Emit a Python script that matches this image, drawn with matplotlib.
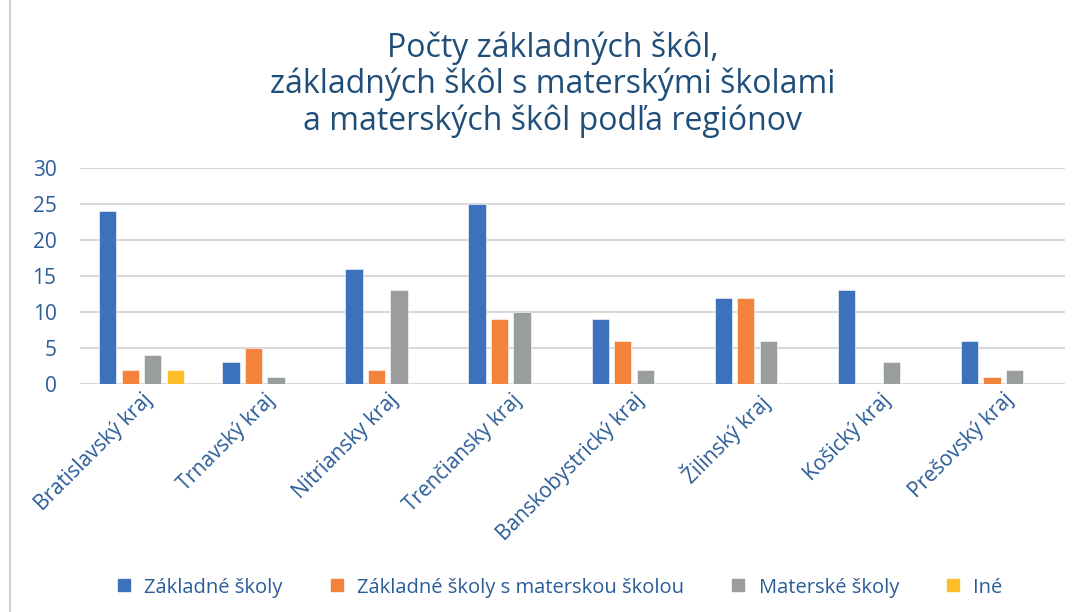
import numpy as np
import matplotlib.pyplot as plt
from matplotlib.lines import Line2D

regions = ["Bratislavský kraj", "Trnavský kraj", "Nitriansky kraj", "Trenčiansky kraj",
           "Banskobystrický kraj", "Žilinský kraj", "Košický kraj", "Prešovský kraj"]
zakladne = [24, 3, 16, 25, 9, 12, 13, 6]
zakladne_ms = [2, 5, 2, 9, 6, 12, 0, 1]
materske = [4, 1, 13, 10, 2, 6, 3, 2]
ine = [2, 0, 0, 0, 0, 0, 0, 0]

series = [
    ("Základné školy", zakladne, "#3C72BC"),
    ("Základné školy s materskou školou", zakladne_ms, "#F3833B"),
    ("Materské školy", materske, "#9A9D9D"),
    ("Iné", ine, "#FDBE27"),
]

text_color = "#2B5C97"
plt.rcParams["font.family"] = ["Open Sans", "DejaVu Sans"]

fig = plt.figure(figsize=(10.82, 6.12), dpi=100)
ax = fig.add_axes([0.074, 0.3725, 0.910, 0.353])

x = np.arange(len(regions))
step = 0.183
width = 0.14
for i, (name, vals, color) in enumerate(series):
    vals = np.array(vals, dtype=float)
    mask = vals > 0
    ax.bar(x[mask] + (i - 1.5) * step, vals[mask], width, color=color,
           edgecolor="white", linewidth=0.4, zorder=3)

ax.set_xlim(-0.5, len(regions) - 0.5)
ax.set_ylim(0, 30)
ax.set_yticks(range(0, 31, 5))
ax.yaxis.grid(True, color="#D9D9D9", linewidth=1.5, zorder=0)
for s in ax.spines.values():
    s.set_visible(False)
ax.tick_params(axis="both", length=0, labelcolor=text_color, labelsize=15)
ax.tick_params(axis="y", pad=17)
ax.tick_params(axis="x", pad=4)
ax.set_xticks(x)
ax.set_xticklabels(regions, rotation=45, ha="right", rotation_mode="anchor")

fig.text(0.511, 0.862, "Počty základných škôl,\nzákladných škôl s materskými školami\na materských škôl podľa regiónov",
         ha="center", va="center", fontsize=23, color="#1F4E79", linespacing=1.12)

handles = [Line2D([], [], marker="s", linestyle="none", markersize=8,
                  markerfacecolor=c, markeredgecolor=c) for _, _, c in series]
fig.legend(handles, [n for n, _, _ in series], loc="center", bbox_to_anchor=(0.516, 0.04),
           ncol=4, frameon=False, fontsize=14.5, labelcolor=text_color,
           handletextpad=0.5, columnspacing=2.2, handlelength=1.0)

fig.add_artist(Line2D([0.009, 0.009], [0, 1], transform=fig.transFigure,
                      color="#D0D0D0", linewidth=1.5))

fig.savefig("out.png", dpi=100)
